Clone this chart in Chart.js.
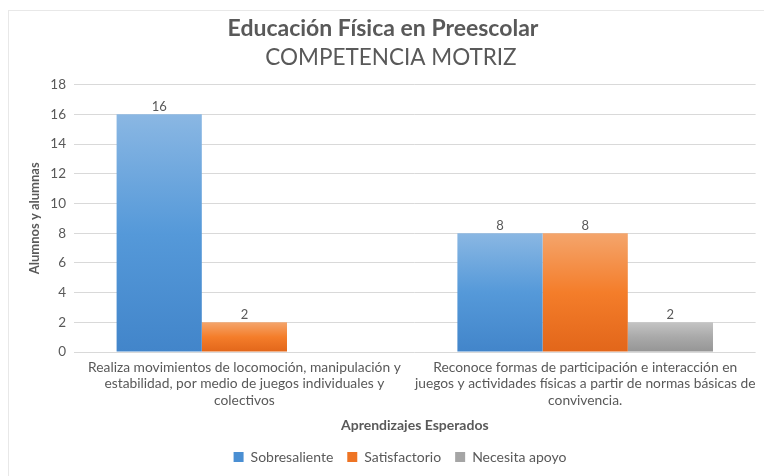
<!DOCTYPE html>
<html>
<head>
<meta charset="utf-8">
<script src="https://cdn.jsdelivr.net/npm/chart.js@4/dist/chart.umd.min.js"></script>
<style>
  html, body { margin: 0; padding: 0; background: #ffffff; }
  #wrap { width: 764px; height: 476px; }
</style>
</head>
<body>
<div id="wrap"><canvas id="c" width="764" height="476"></canvas></div>
<script>
const categories = [
  ["Realiza movimientos de locomoción, manipulación y", "estabilidad, por medio de juegos individuales y", "colectivos"],
  ["Reconoce formas de participación e interacción en", "juegos y actividades físicas a partir de normas básicas de", "convivencia."]
];
const seriesNames = ["Sobresaliente", "Satisfactorio", "Necesita apoyo"];
const sobresaliente = [16, 8];
const satisfactorio = [2, 8];
const necesitaApoyo = [null, 2];
const yTicks = [0, 2, 4, 6, 8, 10, 12, 14, 16, 18];

const gradStops = [
  ["#8ab7e3", "#5599d9", "#4285ca"],
  ["#f4a56c", "#f47d2a", "#e2661a"],
  ["#c4c4c4", "#a9a9a9", "#959595"]
];
const legendColors = ["#4a8fd3", "#ee7424", "#a5a5a5"];
const textColor = "#595959";
const FONT = "Lato, 'Open Sans', sans-serif";

function barFill(si) {
  return function(ctx) {
    const chart = ctx.chart;
    const ys = chart.scales && chart.scales.y;
    if (!chart.chartArea || !ys || ctx.raw == null) return gradStops[si][1];
    const top = ys.getPixelForValue(ctx.raw);
    const bot = ys.getPixelForValue(0);
    if (!isFinite(top) || !isFinite(bot) || top === bot) return gradStops[si][1];
    const g = chart.ctx.createLinearGradient(0, top, 0, bot);
    g.addColorStop(0, gradStops[si][0]);
    g.addColorStop(0.5, gradStops[si][1]);
    g.addColorStop(1, gradStops[si][2]);
    return g;
  };
}

const frame = {
  id: 'frame',
  beforeDraw(chart) {
    const c = chart.ctx;
    c.save();
    c.fillStyle = '#ffffff';
    c.fillRect(0, 0, chart.width, chart.height);
    c.strokeStyle = '#e8e8e8';
    c.lineWidth = 1;
    c.strokeRect(8.5, 10.5, 900, 600);
    c.restore();
  }
};

// the reference centres its legend and subtitle slightly right of the page centre
const nudge = {
  id: 'nudge',
  afterLayout(chart) {
    if (chart.legend) { chart.legend.left += 17; chart.legend.right += 17; }
    const sub = chart.boxes.find(b => b.options && b.options.text === "COMPETENCIA MOTRIZ");
    if (sub) { sub.left += 8; sub.right += 8; }
  }
};

const valueLabels = {
  id: 'valueLabels',
  afterDatasetsDraw(chart) {
    const c = chart.ctx;
    c.save();
    c.fillStyle = textColor;
    c.font = "13px " + FONT;
    c.textAlign = 'center';
    c.textBaseline = 'bottom';
    chart.data.datasets.forEach((ds, di) => {
      const meta = chart.getDatasetMeta(di);
      meta.data.forEach((el, i) => {
        const v = ds.data[i];
        if (v == null) return;
        c.fillText(String(v), el.x, el.y - 1);
      });
    });
    c.restore();
  }
};

const datasetValues = [sobresaliente, satisfactorio, necesitaApoyo];

new Chart(document.getElementById('c'), {
  type: 'bar',
  data: {
    labels: categories,
    datasets: seriesNames.map((name, si) => ({
      label: name,
      data: datasetValues[si],
      backgroundColor: barFill(si),
      borderWidth: 0,
      categoryPercentage: 0.75,
      barPercentage: 1.0
    }))
  },
  options: {
    responsive: false,
    animation: false,
    devicePixelRatio: 1,
    layout: { padding: { left: 8, right: 6, top: 0, bottom: 2 } },
    plugins: {
      title: {
        display: true,
        text: "Educación Física en Preescolar",
        color: textColor,
        font: { family: FONT, size: 23, weight: 'bold', lineHeight: 1.2 },
        padding: { top: 15, bottom: 2 }
      },
      subtitle: {
        display: true,
        text: "COMPETENCIA MOTRIZ",
        color: textColor,
        font: { family: FONT, size: 22.5, weight: 'normal', lineHeight: 1.2 },
        padding: { top: 0, bottom: 13 }
      },
      legend: {
        position: 'bottom',
        labels: {
          color: textColor,
          font: { family: FONT, size: 14 },
          boxWidth: 10,
          boxHeight: 10,
          padding: 14,
          generateLabels(chart) {
            return chart.data.datasets.map((ds, i) => ({
              text: ds.label,
              fillStyle: legendColors[i],
              strokeStyle: legendColors[i],
              lineWidth: 0,
              hidden: false,
              datasetIndex: i,
              fontColor: textColor
            }));
          }
        }
      },
      tooltip: { enabled: false }
    },
    scales: {
      x: {
        grid: { display: false, drawTicks: false },
        border: { display: false },
        ticks: {
          color: textColor,
          font: { family: FONT, size: 13.8, lineHeight: 1.2 },
          maxRotation: 0,
          autoSkip: false,
          padding: 7
        },
        title: {
          display: true,
          text: "Aprendizajes Esperados",
          color: textColor,
          font: { family: FONT, size: 14, weight: 'bold', lineHeight: 1.2 },
          padding: { top: 0, bottom: 2 }
        },
        afterFit(scale) { scale.height = 84; }
      },
      y: {
        min: 0,
        max: 18,
        afterBuildTicks(scale) { scale.ticks = yTicks.map(v => ({ value: v })); },
        grid: { color: '#d9d9d9', drawTicks: false, lineWidth: 1 },
        border: { display: false },
        ticks: {
          color: textColor,
          font: { family: FONT, size: 13.5 },
          padding: 8
        },
        title: {
          display: true,
          text: "Alumnos y alumnas",
          color: textColor,
          font: { family: FONT, size: 13, weight: 'bold', lineHeight: 1.2 },
          padding: { top: 19, bottom: 0 }
        },
        afterFit(scale) { scale.width = 66; }
      }
    }
  },
  plugins: [frame, nudge, valueLabels]
});
</script>
</body>
</html>
